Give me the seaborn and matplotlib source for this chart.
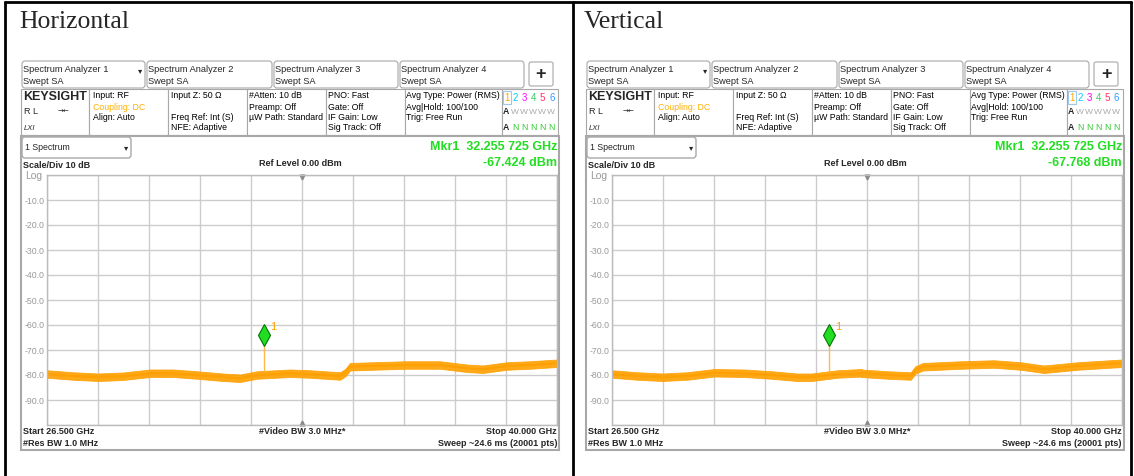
import numpy as np
import pandas as pd
import matplotlib
matplotlib.use("Agg")
import matplotlib.pyplot as plt
from matplotlib.patches import Rectangle, FancyBboxPatch
import seaborn as sns

sns.set_style("white")
plt.rcParams['font.family'] = ['Liberation Sans', 'DejaVu Sans']

# Daten
titles = ["Horizontal", "Vertical"]
mkr_freq = 32.255725
mkr_values = ["-67.424 dBm", "-67.768 dBm"]
y_ticks = [-100, -90, -80, -70, -60, -50, -40, -30, -20, -10, 0]

freq_h = [26.50, 27.19, 27.85, 28.51, 29.23, 29.84, 30.47, 31.16, 31.61, 32.06,
          32.93, 33.46, 34.26, 34.40, 34.52, 35.12, 36.02, 36.90, 37.61, 38.04,
          38.67, 39.28, 40.00]
level_h = [-79.6, -80.4, -80.9, -80.5, -79.3, -79.3, -80.0, -80.9, -81.3, -80.0,
           -79.3, -79.6, -80.4, -79.0, -76.7, -76.4, -76.0, -76.0, -77.3, -77.7,
           -76.4, -76.0, -75.3]

freq_v = [26.50, 27.17, 27.83, 28.49, 29.21, 30.00, 30.72, 31.41, 31.78, 32.47,
          33.11, 33.09, 33.80, 34.41, 34.53, 34.73, 35.74, 36.61, 37.32, 37.93,
          38.83, 40.00]
level_v = [-79.6, -80.4, -80.9, -80.4, -79.1, -79.3, -80.0, -80.9, -80.9, -79.6,
           -79.1, -79.3, -80.0, -80.4, -78.0, -76.7, -76.0, -75.6, -76.4, -77.7,
           -76.4, -75.3]

traces = [(freq_h, level_h), (freq_v, level_v)]
panel_x0 = [0, 565]

ORANGE = '#FFA000'
GREEN = '#22DD22'
GRAY = '#A8A8A8'

fig = plt.figure(figsize=(11.34, 4.76), dpi=100)
bg = fig.add_axes([0, 0, 1, 1])
bg.set_xlim(0, 1134)
bg.set_ylim(476, 0)
bg.axis('off')

# äußere Tabellenrahmen
for xx in [5, 573, 1131]:
    bg.plot([xx, xx], [2, 476], color='black', lw=2)
bg.plot([5, 1131], [2, 2], color='black', lw=2)


def txt(x, y, s, size=6.3, **kw):
    bg.text(x, y, s, fontsize=size, va='center', **kw)


def draw_panel(x0, title, mkr_val, freq, level):
    bg.text(x0 + 19, 22, title, fontsize=18.5, family=['Liberation Serif'],
            va='center')

    # Reiter
    tab_edges = [21, 146, 273, 399, 525]
    for i in range(4):
        bg.add_patch(FancyBboxPatch((x0 + tab_edges[i] + 1, 61),
                                    tab_edges[i + 1] - tab_edges[i] - 2, 27,
                                    boxstyle='round,pad=0,rounding_size=3',
                                    fc='white', ec=GRAY, lw=0.8))
        txt(x0 + tab_edges[i] + 2, 70, f"Spectrum Analyzer {i + 1}", size=6.7)
        txt(x0 + tab_edges[i] + 2, 81, "Swept SA", size=6.7)
    txt(x0 + 138, 71, "▾", size=6, family=['DejaVu Sans'])
    bg.add_patch(FancyBboxPatch((x0 + 529, 62), 24, 24,
                                boxstyle='round,pad=0,rounding_size=2',
                                fc='white', ec=GRAY, lw=0.8))
    bg.text(x0 + 541, 74, "+", fontsize=13, fontweight='bold',
            ha='center', va='center')

    # Infoleiste
    cols = [21, 89, 168, 247, 326, 405, 502, 558]
    for i in range(len(cols) - 1):
        bg.add_patch(Rectangle((x0 + cols[i], 89), cols[i + 1] - cols[i], 46,
                               fc='white', ec=GRAY, lw=0.8))
    rows = [96, 107, 118, 128]
    txt(x0 + 23, 97, "KEYSIGHT", size=9, fontweight='bold')
    txt(x0 + 24, 112, "R L", size=6.5)
    txt(x0 + 58, 112, "→←", size=5, family=['DejaVu Sans'])
    txt(x0 + 24, 128, "LXI", size=5.5, style='italic')
    info = [
        (93, ["Input: RF", "Coupling: DC", "Align: Auto", ""]),
        (171, ["Input Z: 50 Ω", "", "Freq Ref: Int (S)", "NFE: Adaptive"]),
        (249, ["#Atten: 10 dB", "Preamp: Off", "µW Path: Standard", ""]),
        (328, ["PNO: Fast", "Gate: Off", "IF Gain: Low", "Sig Track: Off"]),
        (406, ["Avg Type: Power (RMS)", "Avg|Hold: 100/100", "Trig: Free Run", ""]),
    ]
    for cx, lines in info:
        for ry, s in zip(rows, lines):
            color = '#FFB000' if s.startswith("Coupling") else 'black'
            txt(x0 + cx, ry, s, color=color)
    trace_cols = ['#FFA500', '#00CCFF', '#FF00FF', '#33CC66', '#FF3366', '#3399FF']
    bg.add_patch(Rectangle((x0 + 503, 91), 8, 13, fc='white', ec='#9EC8E8', lw=0.8))
    for i, c in enumerate(trace_cols):
        txt(x0 + 504 + i * 9, 98, str(i + 1), size=7, color=c)
    txt(x0 + 503, 112, "A", size=6.3, fontweight='bold')
    txt(x0 + 503, 127, "A", size=6.3, fontweight='bold')
    for i in range(5):
        txt(x0 + 511 + i * 9, 112, "W", size=6, color='#AAAAAA')
        txt(x0 + 512 + i * 9, 127, "N", size=6.3, color='#33CC33')

    # Bildschirmrahmen
    bg.add_patch(Rectangle((x0 + 21, 136), 538, 314, fc='none', ec=GRAY, lw=1.5))
    bg.add_patch(FancyBboxPatch((x0 + 22, 137), 109, 21,
                                boxstyle='round,pad=0,rounding_size=3',
                                fc='white', ec=GRAY, lw=1))
    txt(x0 + 25, 148, "1 Spectrum")
    txt(x0 + 124, 148, "▾", size=6, family=['DejaVu Sans'])
    bg.text(x0 + 557, 147, "Mkr1  32.255 725 GHz", fontsize=9, fontweight='bold',
            color=GREEN, ha='right', va='center')
    bg.text(x0 + 557, 163, mkr_val, fontsize=9, fontweight='bold',
            color=GREEN, ha='right', va='center')
    txt(x0 + 23, 165, "Scale/Div 10 dB", size=6.5, fontweight='bold')
    bg.text(x0 + 300, 164, "Ref Level 0.00 dBm", fontsize=6.5, fontweight='bold',
            ha='center', va='center')
    txt(x0 + 25, 176, "Log", size=7.5, color='#999999')
    txt(x0 + 23, 432, "Start 26.500 GHz", size=6.5, fontweight='bold')
    txt(x0 + 23, 444, "#Res BW 1.0 MHz", size=6.5, fontweight='bold')
    bg.text(x0 + 302, 432, "#Video BW 3.0 MHz*", fontsize=6.5, fontweight='bold',
            ha='center', va='center')
    bg.text(x0 + 557, 432, "Stop 40.000 GHz", fontsize=6.5, fontweight='bold',
            ha='right', va='center')
    bg.text(x0 + 557, 444, "Sweep ~24.6 ms (20001 pts)", fontsize=6.5,
            fontweight='bold', ha='right', va='center')

    # Spektrum-Diagramm
    ax = fig.add_axes([(x0 + 47) / 1134, (476 - 425) / 476, 510 / 1134, 250 / 476])
    df = pd.DataFrame({'freq': freq, 'level': level})
    lv = np.array(level)
    ax.fill_between(freq, lv - 1.5, lv + 1.5, color=ORANGE, lw=0.6, alpha=0.9)
    sns.lineplot(data=df, x='freq', y='level', ax=ax, color=ORANGE, lw=1.5)
    ax.set_xlim(26.5, 40)
    ax.set_ylim(-100, 0)
    ax.set_xticks(np.linspace(26.5, 40, 11))
    ax.set_xticklabels([])
    ax.set_yticks(y_ticks)
    ax.set_yticklabels(['' if v in (0, -100) else f"{v:.1f}" for v in y_ticks])
    ax.tick_params(axis='y', length=0, pad=1.5, labelsize=6.3, labelcolor='#999999')
    ax.tick_params(axis='x', length=0)
    ax.grid(True, color='#CCCCCC', lw=1)
    ax.set_axisbelow(True)
    ax.set_xlabel('')
    ax.set_ylabel('')
    for sp in ax.spines.values():
        sp.set_color('#BBBBBB')
        sp.set_linewidth(1)
    ax.plot(33.25, -0.8, marker='v', color='#888888', ms=3.5, clip_on=False)
    ax.plot(33.25, -99.2, marker='^', color='#888888', ms=3.5, clip_on=False)
    # Marker 1
    ax.plot([mkr_freq, mkr_freq], [-66.5, -78.5], color='#FFB84D', lw=1)
    ax.plot(mkr_freq, -64, marker='d', ms=11, mfc=GREEN, mec='#007700', mew=0.8)
    ax.text(mkr_freq + 0.15, -62, "1", color=ORANGE, fontsize=8)


for x0, title, mv, (f, l) in zip(panel_x0, titles, mkr_values, traces):
    draw_panel(x0, title, mv, f, l)

fig.savefig('out.png', dpi=100)
